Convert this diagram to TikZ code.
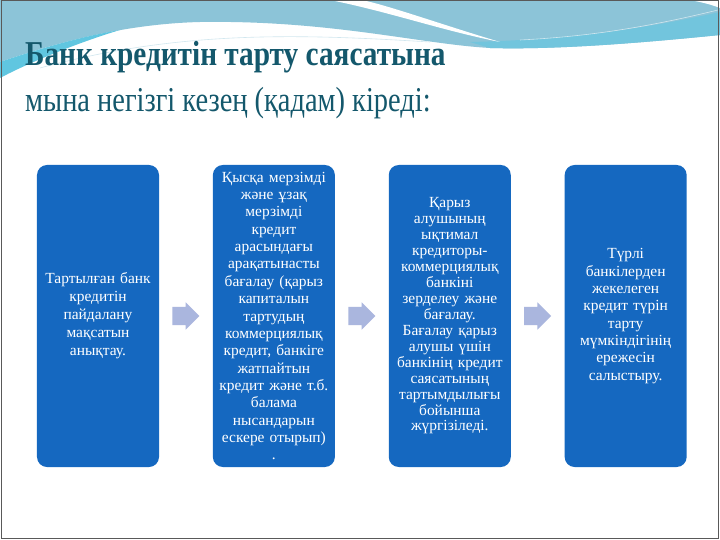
\documentclass[tikz,border=0pt]{standalone}
\usepackage{fontspec}
\setmainfont{Liberation Serif}
\newfontfamily\headfont[FakeStretch=0.84]{Liberation Serif}
\newfontfamily\subheadfont[FakeStretch=0.815]{Liberation Serif}
\usetikzlibrary{positioning,shapes.arrows}
\definecolor{boxblue}{RGB}{21,104,192}
\definecolor{arrowgray}{RGB}{170,182,222}
\definecolor{titleteal}{RGB}{20,88,108}
\definecolor{skyband}{RGB}{140,196,216}
\definecolor{cyanband}{RGB}{96,198,224}
\tikzset{%
    stepbox/.style={rectangle,rounded corners=10bp,fill=boxblue,text=white,
        minimum width=122bp,minimum height=302bp,text width=118bp,
        align=center,inner sep=0pt,font=\fontsize{15.5}{17.4}\selectfont}
}

\begin{document}
\begin{tikzpicture}[
                x=1bp,y=-1bp,
                nextarrow/.style={single arrow,fill=arrowgray,inner xsep=0pt,inner ysep=9bp,
                    minimum height=27bp,single arrow head extend=4.5bp}
            ]
            \useasboundingbox (0,0) rectangle (720,540);
            \fill[white] (0,0) rectangle (720,540);

            \fill[skyband] (0,0) -- (720,0) -- (720,35) .. controls (650,42) and (560,50) .. (490,48)
                .. controls (420,44) and (330,20) .. (200,22) .. controls (120,24) and (50,45) .. (0,62) -- cycle;
            \fill[cyanband!60!skyband] (720,12) .. controls (640,30) and (560,40) .. (470,42) -- (490,48)
                .. controls (560,50) and (650,42) .. (720,35) -- cycle;
            \fill[white] (330,0) .. controls (390,12) and (440,30) .. (500,42) .. controls (440,24) and (390,6) .. (362,0) -- cycle;
            \fill[white] (690,0) -- (720,0) -- (720,8) .. controls (710,4) and (700,2) .. (690,0) -- cycle;
            \fill[cyanband] (0,62) .. controls (50,45) and (90,35) .. (120,30) .. controls (80,42) and (30,62) .. (0,78) -- cycle;
            \draw[white!60!skyband,line width=0.6bp] (40,68) .. controls (180,30) and (300,34) .. (430,42);
            \draw[white!60!skyband,line width=0.6bp] (520,40) .. controls (600,36) and (660,24) .. (718,10);
            \draw[gray!70!black,line width=1bp] (1,1) rectangle (718,538);

            \node[anchor=base west,inner sep=0pt,text=titleteal,font=\headfont\fontsize{35}{40}\selectfont\bfseries] (title) at (25,66)
                {Банк кредитін тарту саясатына};
            \node[anchor=base west,inner sep=0pt,text=titleteal,font=\subheadfont\fontsize{35}{40}\selectfont] (subtitle) at (25,112)
                {мына негізгі кезең (қадам) кіреді:};

            \node[stepbox,font=\fontsize{15.5}{18}\selectfont] (maqsat) at (98,316)
                {Тартылған банк\\ кредитін\\ пайдалану\\ мақсатын\\ анықтау.};
            \node[nextarrow,right=13bp of maqsat] (arr1) {};
            \node[stepbox,right=13bp of arr1] (arakatynas)
                {Қысқа мерзімді\\ және ұзақ\\ мерзімді\\ кредит\\ арасындағы\\ арақатынасты\\ бағалау (қарыз\\
                 капиталын\\ тартудың\\ коммерциялық\\ кредит, банкіге\\ жатпайтын\\ кредит және т.б.\\
                 балама\\ нысандарын\\ ескере отырып)\\ .};
            \node[nextarrow,right=13bp of arakatynas] (arr2) {};
            \node[stepbox,right=13bp of arr2,font=\fontsize{15.5}{16}\selectfont] (zerdeleu)
                {Қарыз\\ алушының\\ ықтимал\\ кредиторы-\\ коммерциялық\\ банкіні\\ зерделеу және\\ бағалау.\\
                 Бағалау қарыз\\ алушы үшін\\ банкінің кредит\\ саясатының\\ тартымдылығы\\ бойынша\\ жүргізіледі.};
            \node[nextarrow,right=13bp of zerdeleu] (arr3) {};
            \node[stepbox,right=13bp of arr3] (salystyru)
                {Түрлі\\ банкілерден\\ жекелеген\\ кредит түрін\\ тарту\\ мүмкіндігінің\\ ережесін\\ салыстыру.};
\end{tikzpicture}
\end{document}
